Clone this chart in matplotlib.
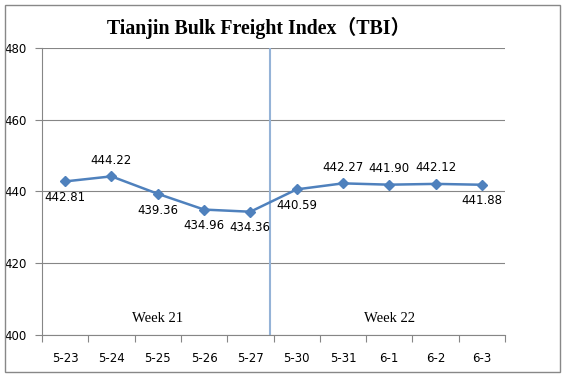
import matplotlib
matplotlib.use("Agg")
import matplotlib.pyplot as plt
from matplotlib.patches import Rectangle

dates = ["5-23", "5-24", "5-25", "5-26", "5-27", "5-30", "5-31", "6-1", "6-2", "6-3"]
tbi = [442.81, 444.22, 439.36, 434.96, 434.36, 440.59, 442.27, 441.90, 442.12, 441.88]
label_above = [False, True, False, False, False, False, True, True, True, False]
weeks = ["Week 21", "Week 22"]

fig = plt.figure(figsize=(5.63, 3.77), dpi=100)
fig.patches.append(Rectangle((0.009, 0.013), 0.985, 0.974, transform=fig.transFigure,
                             fill=False, edgecolor="#888888", linewidth=1))
ax = fig.add_axes([0.0746, 0.1114, 0.8224, 0.7613])

x = list(range(len(dates)))
ax.plot(x, tbi, color="#4F81BD", linewidth=1.8, marker="D", markersize=5, zorder=3)
for i, v in enumerate(tbi):
    if label_above[i]:
        ax.annotate(f"{v:.2f}", (i, v), xytext=(0, 7), textcoords="offset points",
                    ha="center", va="bottom", fontsize=8.5)
    else:
        ax.annotate(f"{v:.2f}", (i, v), xytext=(0, -7), textcoords="offset points",
                    ha="center", va="top", fontsize=8.5)

ax.axvline(4.42, color="#95B3D7", linewidth=1.5, zorder=2)
ax.text(2.0, 404.5, weeks[0], ha="center", va="center", family="Liberation Serif", fontsize=10.5)
ax.text(7.0, 404.5, weeks[1], ha="center", va="center", family="Liberation Serif", fontsize=10.5)

ax.set_xlim(-0.5, len(dates) - 0.5)
ax.set_ylim(400, 480)
ax.set_yticks([400, 420, 440, 460, 480])
ax.yaxis.grid(True, color="#868686", linewidth=0.8)
ax.set_axisbelow(True)
ax.set_xticks([i - 0.5 for i in range(len(dates) + 1)])
ax.set_xticklabels([])
ax.set_xticks(x, minor=True)
ax.set_xticklabels(dates, minor=True)
ax.tick_params(axis="x", which="major", length=5, color="#868686", direction="out")
ax.tick_params(axis="x", which="minor", length=0, labelsize=8.5, pad=12)
ax.tick_params(axis="y", length=5, color="#868686", labelsize=8.5, pad=6)
for s in ["top", "right"]:
    ax.spines[s].set_visible(False)
ax.spines["left"].set_color("#868686")
ax.spines["bottom"].set_color("#868686")

fig.text(0.46, 0.925, "Tianjin Bulk Freight Index（TBI）", ha="center", va="center",
         fontsize=14.3, fontweight="bold", family=["Liberation Serif", "Noto Sans CJK SC"])

fig.savefig("out.png", dpi=100)
